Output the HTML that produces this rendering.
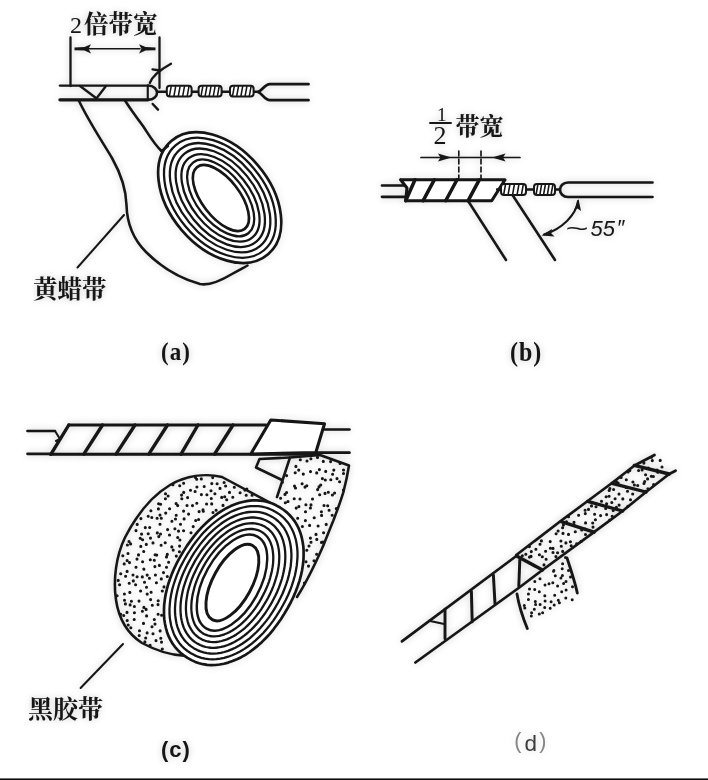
<!DOCTYPE html>
<html lang="zh-CN"><head><meta charset="utf-8"><title>绝缘带包缠方法</title>
<style>
html,body{margin:0;padding:0;background:#fff;}
body{width:708px;height:780px;overflow:hidden;position:relative;}
svg{position:absolute;left:0;top:0;display:block;}
.cjk{font-family:"Liberation Serif","Noto Serif CJK SC",serif;font-weight:700;fill:#141414;}
.num{font-family:"Liberation Serif",serif;fill:#141414;}
.lab{font-family:"Liberation Serif",serif;font-weight:700;fill:#141414;}
.sans{font-family:"Liberation Sans",sans-serif;}
</style></head><body>
<svg width="708" height="780" viewBox="0 0 708 780">
<defs><filter id="soft" x="-2%" y="-2%" width="104%" height="104%"><feGaussianBlur stdDeviation="0.45"/></filter><filter id="haze" x="-5%" y="-5%" width="110%" height="110%"><feGaussianBlur stdDeviation="3.5"/></filter></defs>
<rect x="0" y="0" width="708" height="780" fill="#fff"/>
<use href="#art" filter="url(#haze)" opacity="0.22"/>
<g id="art" filter="url(#soft)">
<path d="M70.5 37.5V86 M159.5 37.5V88" fill="none" stroke="#141414" stroke-width="2.28" stroke-linecap="round" stroke-linejoin="round" />
<path d="M88 48.8H140" fill="none" stroke="#141414" stroke-width="1.61" stroke-linecap="round" stroke-linejoin="round" />
<path d="M74.5 47.4L84.5 47L91 44.2L88.5 48.8L91 53.4L84.5 50.6L74.5 50.2Z" fill="#141414"/>
<path d="M155.5 47.4L145.5 47L139 44.2L141.5 48.8L139 53.4L145.5 50.6L155.5 50.2Z" fill="#141414"/>
<path d="M60 85.6H148" fill="none" stroke="#141414" stroke-width="2.41" stroke-linecap="round" stroke-linejoin="round" />
<path d="M60 99.8H148" fill="none" stroke="#141414" stroke-width="3.35" stroke-linecap="round" stroke-linejoin="round" />
<path d="M148 85.6C160 86 160 99.5 148 99.8" fill="none" stroke="#141414" stroke-width="2.55" stroke-linecap="round" stroke-linejoin="round" />
<path d="M147.8 86V99.5" fill="none" stroke="#141414" stroke-width="2.14" stroke-linecap="round" stroke-linejoin="round" />
<path d="M80 86L96 98 M106 86L96 99" fill="none" stroke="#141414" stroke-width="2.28" stroke-linecap="round" stroke-linejoin="round" />
<path d="M149.8 83C152 77 157 71.5 171 63.8 M152.5 69.3L160 70.5" fill="none" stroke="#141414" stroke-width="2.28" stroke-linecap="round" stroke-linejoin="round" />
<path d="M152.7 104L158 109.6" fill="none" stroke="#141414" stroke-width="2.41" stroke-linecap="round" stroke-linejoin="round" />
<path d="M157 91.8H167 M191 91.8H199 M221 91.8H231 M254 91.8H259" fill="none" stroke="#141414" stroke-width="2.41" stroke-linecap="round" stroke-linejoin="round" />
<rect x="166.8" y="85.8" width="24.8" height="10.8" rx="3" ry="3" fill="#fff" stroke="#141414" stroke-width="2.00"/><path d="M171.1 86.8L169.5 95.6M175.6 86.8L174.0 95.6M180.0 86.8L178.4 95.6M184.4 86.8L182.8 95.6M188.9 86.8L187.3 95.6" fill="none" stroke="#141414" stroke-width="1.54" stroke-linecap="round" stroke-linejoin="round" />
<rect x="198.6" y="85.8" width="23.0" height="10.8" rx="3" ry="3" fill="#fff" stroke="#141414" stroke-width="2.00"/><path d="M202.7 86.8L201.1 95.6M206.8 86.8L205.2 95.6M210.9 86.8L209.3 95.6M215.0 86.8L213.4 95.6M219.1 86.8L217.5 95.6" fill="none" stroke="#141414" stroke-width="1.54" stroke-linecap="round" stroke-linejoin="round" />
<rect x="230.0" y="85.8" width="23.6" height="10.8" rx="3" ry="3" fill="#fff" stroke="#141414" stroke-width="2.00"/><path d="M234.2 86.8L232.6 95.6M238.4 86.8L236.8 95.6M242.6 86.8L241.0 95.6M246.8 86.8L245.2 95.6M251.0 86.8L249.4 95.6" fill="none" stroke="#141414" stroke-width="1.54" stroke-linecap="round" stroke-linejoin="round" />
<path d="M308.5 84.2H270C264.5 84.2 262 91 258 92C262 93 264.5 100.2 270 100.2H308.5" fill="none" stroke="#141414" stroke-width="2.81" stroke-linecap="round" stroke-linejoin="round" />
<path d="M78.8 100.5C88 120 100 138 112 158C121 174 126 188 126.5 205C127 225 134 240 146 252C160 266 178 278 200 284C210 286 222 280 232 274C238 270.5 243 268 247.5 265.5" fill="none" stroke="#141414" stroke-width="2.55" stroke-linecap="round" stroke-linejoin="round" />
<path d="M125 100.5C131 110 137 118 143 126C149 135 154 144 161.5 151" fill="none" stroke="#141414" stroke-width="2.55" stroke-linecap="round" stroke-linejoin="round" />
<ellipse cx="219.7" cy="197.6" rx="74.5" ry="50.0" transform="rotate(49.5 219.7 197.6)" fill="#fff" stroke="#141414" stroke-width="2.68"/>
<ellipse cx="219.9" cy="197.7" rx="68.6" ry="44.8" transform="rotate(50.0 219.9 197.7)" fill="none" stroke="#141414" stroke-width="2.28"/>
<ellipse cx="220.1" cy="197.7" rx="62.7" ry="39.6" transform="rotate(50.5 220.1 197.7)" fill="none" stroke="#141414" stroke-width="2.28"/>
<ellipse cx="220.3" cy="197.8" rx="56.8" ry="34.4" transform="rotate(51.0 220.3 197.8)" fill="none" stroke="#141414" stroke-width="2.28"/>
<ellipse cx="220.5" cy="197.9" rx="50.8" ry="29.2" transform="rotate(51.4 220.5 197.9)" fill="none" stroke="#141414" stroke-width="2.28"/>
<ellipse cx="220.7" cy="197.9" rx="44.9" ry="24.0" transform="rotate(51.9 220.7 197.9)" fill="none" stroke="#141414" stroke-width="2.28"/>
<ellipse cx="220.9" cy="198.0" rx="39.0" ry="18.8" transform="rotate(52.4 220.9 198.0)" fill="none" stroke="#141414" stroke-width="2.68"/>
<path d="M161.5 151L168 146" fill="none" stroke="#141414" stroke-width="2.41" stroke-linecap="round" stroke-linejoin="round" />
<path d="M124 215L77.5 267.5" fill="none" stroke="#141414" stroke-width="2.01" stroke-linecap="round" stroke-linejoin="round" />
<path d="M421 157.5H520" fill="none" stroke="#141414" stroke-width="1.68" stroke-linecap="round" stroke-linejoin="round" />
<path d="M451.5 157.5L438 153.6L440.5 157.5L438 161.4Z" fill="#141414"/>
<path d="M492 157.5L505.5 153.6L503 157.5L505.5 161.4Z" fill="#141414"/>
<path d="M458.8 151V179 M481 151V179" fill="none" stroke="#141414" stroke-width="1.61" stroke-linecap="round" stroke-linejoin="round" stroke-dasharray="5 3"/>
<path d="M430 123H451" fill="none" stroke="#141414" stroke-width="1.88" stroke-linecap="round" stroke-linejoin="round" />
<path d="M382 185.5H405 M382 196.8H405" fill="none" stroke="#141414" stroke-width="2.68" stroke-linecap="round" stroke-linejoin="round" />
<path d="M400.6 179.7H505L491.7 200.8H405.7L407 188L400.6 179.7" fill="#fff" stroke="#141414" stroke-width="3.08" stroke-linecap="round" stroke-linejoin="round" />
<path d="M415 179.7L405.7 200.8 M434.4 179.7L423 200.8 M457 179.7L445.7 200.8 M479.4 179.7L468 200.8" fill="none" stroke="#141414" stroke-width="3.48" stroke-linecap="round" stroke-linejoin="round" />
<path d="M468 200.8L506 260 M512.5 195L555 260" fill="none" stroke="#141414" stroke-width="2.55" stroke-linecap="round" stroke-linejoin="round" />
<path d="M497 189.5H503 M526 189.5H535 M555 189.5H560" fill="none" stroke="#141414" stroke-width="2.28" stroke-linecap="round" stroke-linejoin="round" />
<rect x="501.0" y="184.0" width="25.0" height="11.0" rx="3" ry="3" fill="#fff" stroke="#141414" stroke-width="2.00"/><path d="M505.4 185.0L503.8 194.0M509.8 185.0L508.2 194.0M514.3 185.0L512.7 194.0M518.8 185.0L517.2 194.0M523.2 185.0L521.6 194.0" fill="none" stroke="#141414" stroke-width="1.54" stroke-linecap="round" stroke-linejoin="round" />
<rect x="534.0" y="184.0" width="21.0" height="11.0" rx="3" ry="3" fill="#fff" stroke="#141414" stroke-width="2.00"/><path d="M537.8 185.0L536.2 194.0M541.5 185.0L540.0 194.0M545.3 185.0L543.7 194.0M549.0 185.0L547.5 194.0M552.8 185.0L551.2 194.0" fill="none" stroke="#141414" stroke-width="1.54" stroke-linecap="round" stroke-linejoin="round" />
<path d="M652.5 182.5H568C563 182.5 560 186 560 189.7C560 193.5 563 197 568 197H652.5" fill="none" stroke="#141414" stroke-width="2.68" stroke-linecap="round" stroke-linejoin="round" />
<path d="M578 201C576 215 562 229 544 234.5" fill="none" stroke="#141414" stroke-width="2.01" stroke-linecap="round" stroke-linejoin="round" />
<path d="M578.5 199L581 211L577.5 208.5L574 210.5Z" fill="#141414"/>
<path d="M541.5 235.5L552 229L551 233L554.5 236.5Z" fill="#141414"/>
<path d="M27.5 431H55 M27.5 453.8H52" fill="none" stroke="#141414" stroke-width="2.68" stroke-linecap="round" stroke-linejoin="round" />
<path d="M55 431L60 439L56 441" fill="none" stroke="#141414" stroke-width="2.01" stroke-linecap="round" stroke-linejoin="round" />
<path d="M68.8 425H266 M50 454.2H316" fill="none" stroke="#141414" stroke-width="2.95" stroke-linecap="round" stroke-linejoin="round" />
<path d="M68.8 425L51.0 454.2M102.5 425L83.8 454.2M135.0 425L116.0 454.2M167.5 425L148.8 454.2M198.0 425L181.0 454.2M233.0 425L214.5 454.2" fill="none" stroke="#141414" stroke-width="3.35" stroke-linecap="round" stroke-linejoin="round" />
<path d="M270.8 420L324.5 423.8L315.8 452.5L250.8 454Z" fill="#fff" stroke="#141414" stroke-width="3.08" stroke-linecap="round" stroke-linejoin="round" />
<path d="M324.5 429.5H349.5 M315.8 452.7H349.5" fill="none" stroke="#141414" stroke-width="2.68" stroke-linecap="round" stroke-linejoin="round" />
<path d="M289.5 457.5L259.5 459L256 467.5L282 480" fill="none" stroke="#141414" stroke-width="2.55" stroke-linecap="round" stroke-linejoin="round" />
<path d="M277 497L290 457.5L320 455L349 465.5C347 478 345 486 343.3 492.3C340 503 337 511 333.4 520.4C329 531 326 539 322 548.6C316 562 308 580 297 597" fill="none" stroke="#141414" stroke-width="2.55" stroke-linecap="round" stroke-linejoin="round" />
<path d="M317.5 457.4h.01M300.3 459.7h.01M307.0 461.0h.01M310.9 458.8h.01M323.3 461.4h.01M330.6 461.6h.01M340.1 463.4h.01M295.9 466.4h.01M298.7 470.1h.01M310.5 471.6h.01M319.4 469.6h.01M325.7 471.4h.01M333.8 470.1h.01M343.5 470.0h.01M286.6 475.6h.01M295.2 472.7h.01M303.3 474.1h.01M316.7 472.9h.01M322.4 478.6h.01M332.6 474.3h.01M337.0 478.6h.01M343.5 473.5h.01M282.4 482.3h.01M294.5 486.1h.01M302.1 483.7h.01M306.8 485.7h.01M320.7 485.0h.01M325.3 480.0h.01M330.8 479.7h.01M339.6 481.7h.01M286.6 492.5h.01M295.5 488.0h.01M305.0 487.1h.01M317.6 489.6h.01M319.0 486.9h.01M328.3 492.2h.01M334.6 493.0h.01M343.5 490.1h.01M280.6 498.2h.01M285.0 494.4h.01M294.2 498.8h.01M300.0 499.0h.01M312.5 499.0h.01M319.7 494.8h.01M325.0 493.4h.01M332.4 495.0h.01M285.3 502.7h.01M288.0 501.5h.01M298.9 506.6h.01M305.9 504.8h.01M311.0 504.9h.01M324.0 505.5h.01M327.7 505.8h.01M296.2 508.1h.01M305.5 511.8h.01M310.4 508.0h.01M321.4 511.8h.01M329.1 510.2h.01M336.3 508.6h.01M297.7 518.2h.01M305.4 520.6h.01M314.2 517.8h.01M321.6 515.4h.01M332.2 515.3h.01M302.4 526.5h.01M309.6 525.4h.01M318.1 526.0h.01M326.2 524.4h.01M316.0 534.4h.01M323.6 532.7h.01M310.4 538.1h.01M316.8 539.4h.01M322.9 542.0h.01M309.0 546.0h.01M311.0 542.3h.01M321.5 542.4h.01M306.8 550.3h.01M316.6 554.3h.01M306.0 561.8h.01M314.0 560.8h.01M308.5 566.1h.01M304.4 583.1h.01" stroke="#141414" stroke-width="3.10" stroke-linecap="round" fill="none"/>
<path d="M270.4 502.9L222 477C205 473 186 476 170 485C150 497 135 518 125 537.5C116 556 113 580 116 600C119 620 128 634 142 643C155 650 168 655 184.4 655.8" fill="none" stroke="#141414" stroke-width="2.55" stroke-linecap="round" stroke-linejoin="round" />
<path d="M195.5 477.5h.01M212.7 477.6h.01M183.6 483.3h.01M196.7 479.3h.01M201.3 478.9h.01M211.8 483.6h.01M217.1 483.8h.01M224.1 482.5h.01M172.9 484.8h.01M179.7 485.8h.01M190.5 490.2h.01M196.9 487.0h.01M204.2 486.5h.01M211.0 490.7h.01M220.0 488.4h.01M225.6 486.0h.01M234.3 487.2h.01M244.9 490.1h.01M246.8 489.0h.01M165.5 493.8h.01M168.1 496.0h.01M181.6 495.1h.01M183.7 492.4h.01M195.1 491.5h.01M201.4 494.6h.01M206.9 494.8h.01M214.9 493.8h.01M224.7 496.7h.01M229.5 492.4h.01M240.1 492.8h.01M246.2 495.3h.01M252.1 495.2h.01M158.6 503.7h.01M165.4 498.7h.01M176.1 503.6h.01M181.8 498.7h.01M187.6 497.6h.01M196.8 503.3h.01M206.6 504.0h.01M211.3 498.5h.01M221.7 497.4h.01M226.7 499.7h.01M232.8 497.2h.01M158.4 508.9h.01M160.6 504.2h.01M169.6 508.8h.01M177.7 505.6h.01M187.0 505.5h.01M192.5 505.6h.01M203.0 509.9h.01M211.7 503.9h.01M216.1 510.2h.01M223.0 505.4h.01M148.2 516.2h.01M150.9 510.8h.01M160.0 515.1h.01M165.7 513.1h.01M176.2 515.3h.01M183.6 511.1h.01M188.6 514.1h.01M199.1 511.6h.01M203.3 511.3h.01M213.0 512.5h.01M140.9 518.6h.01M151.8 517.5h.01M157.1 518.3h.01M161.3 518.2h.01M171.9 521.2h.01M175.5 519.0h.01M184.1 518.9h.01M195.7 520.5h.01M198.6 519.5h.01M137.2 524.4h.01M145.3 527.6h.01M149.7 527.5h.01M160.0 524.3h.01M167.6 529.6h.01M174.9 528.8h.01M180.5 524.2h.01M193.2 526.6h.01M136.0 530.6h.01M141.6 534.1h.01M148.2 533.8h.01M157.3 532.9h.01M160.5 534.0h.01M169.5 535.0h.01M178.5 531.1h.01M183.6 530.7h.01M191.0 532.8h.01M129.0 541.5h.01M140.2 538.2h.01M142.6 539.8h.01M150.5 538.1h.01M158.8 536.6h.01M165.2 542.7h.01M177.7 537.5h.01M179.9 540.0h.01M127.4 545.0h.01M130.6 543.9h.01M140.8 546.4h.01M146.3 544.4h.01M153.0 542.9h.01M161.1 545.3h.01M171.8 546.9h.01M179.6 546.1h.01M122.8 555.8h.01M128.0 553.5h.01M138.5 554.9h.01M143.7 551.5h.01M155.1 554.7h.01M156.7 555.1h.01M167.3 554.4h.01M173.2 550.1h.01M179.4 551.7h.01M127.1 560.6h.01M137.0 559.1h.01M142.6 561.7h.01M150.3 559.8h.01M154.3 560.2h.01M166.5 556.9h.01M168.6 562.2h.01M176.3 556.1h.01M124.2 563.9h.01M129.5 562.6h.01M136.0 567.3h.01M143.8 569.0h.01M154.9 566.6h.01M159.4 565.4h.01M166.5 567.2h.01M120.7 573.7h.01M127.1 571.4h.01M133.0 575.0h.01M143.9 569.2h.01M147.2 575.1h.01M155.4 575.0h.01M163.5 572.6h.01M118.2 580.4h.01M125.6 576.2h.01M133.3 580.9h.01M137.1 576.8h.01M142.3 576.9h.01M149.4 578.2h.01M161.3 578.9h.01M167.3 576.5h.01M119.6 584.8h.01M129.2 583.3h.01M135.6 584.7h.01M144.5 582.3h.01M146.5 587.3h.01M156.4 582.7h.01M164.0 586.9h.01M124.4 594.0h.01M129.8 592.4h.01M140.6 591.0h.01M147.2 594.1h.01M151.1 592.3h.01M162.3 591.0h.01M117.1 595.8h.01M124.5 600.3h.01M131.4 601.2h.01M139.0 601.1h.01M150.6 599.6h.01M158.2 600.8h.01M125.4 603.9h.01M130.1 604.9h.01M134.4 606.5h.01M143.9 607.4h.01M152.3 605.2h.01M158.0 604.6h.01M120.7 614.3h.01M127.0 612.4h.01M134.4 612.7h.01M142.4 611.2h.01M146.1 609.4h.01M158.1 614.3h.01M123.7 615.5h.01M127.2 620.5h.01M134.2 619.5h.01M146.6 615.9h.01M154.3 619.5h.01M161.6 615.2h.01M128.2 625.0h.01M130.8 627.8h.01M143.5 623.4h.01M152.0 626.8h.01M155.0 624.1h.01M139.5 630.8h.01M147.1 632.9h.01M153.0 633.8h.01M160.1 630.9h.01M139.2 635.5h.01M145.7 638.0h.01M156.0 640.6h.01M160.8 638.3h.01M144.9 641.9h.01M150.1 645.3h.01M161.5 642.1h.01M162.3 649.0h.01" stroke="#141414" stroke-width="3.10" stroke-linecap="round" fill="none"/>
<path d="M280.1 507.5L283.8 510.0L287.1 512.6L290.0 515.5L292.7 518.6L295.1 521.9L297.2 525.5L299.0 529.2L300.5 533.2L301.7 537.4L302.6 541.7L303.3 546.2L303.6 550.9L303.6 555.7L303.4 560.6L302.8 565.6L302.0 570.7L300.8 575.9L299.4 581.1L297.6 586.4L295.6 591.8L293.3 597.1L290.7 602.5L287.7 608.0L284.3 613.8L280.7 619.5L277.1 624.5L273.5 629.3L269.8 633.8L265.9 638.0L262.0 641.9L257.9 645.6L253.8 648.9L249.7 652.0L245.4 654.8L241.2 657.2L236.9 659.3L232.5 661.1L228.2 662.6L223.9 663.7L219.7 664.5L215.4 665.0L211.3 665.1L207.2 664.8L203.1 664.2L199.2 663.2L195.3 661.9L191.5 660.1L187.5 657.9L183.8 655.4L180.5 652.8L177.6 649.9L174.9 646.8L172.5 643.5L170.4 639.9L168.6 636.2L167.1 632.2L165.9 628.0L165.0 623.7L164.3 619.2L164.0 614.5L164.0 609.7L164.2 604.8L164.8 599.8L165.6 594.7L166.8 589.5L168.2 584.3L170.0 579.0L172.0 573.6L174.3 568.3L176.9 562.9L179.9 557.4L183.3 551.6L186.9 545.9L190.5 540.9L194.1 536.1L197.8 531.6L201.7 527.4L205.6 523.5L209.7 519.8L213.8 516.5L217.9 513.4L222.2 510.6L226.4 508.2L230.7 506.1L235.1 504.3L239.4 502.8L243.7 501.7L247.9 500.9L252.2 500.4L256.3 500.3L260.4 500.6L264.5 501.2L268.4 502.2L272.3 503.5L276.1 505.3Z" fill="#fff" stroke="#141414" stroke-width="2.68" stroke-linejoin="round"/>
<path d="M276.1 512.2L279.5 514.4L282.5 516.8L285.2 519.4L287.6 522.2L289.7 525.2L291.6 528.5L293.3 532.0L294.6 535.7L295.8 539.5L296.6 543.6L297.2 547.8L297.5 552.1L297.5 556.6L297.2 561.2L296.7 565.9L295.9 570.6L294.9 575.5L293.5 580.4L291.9 585.3L290.1 590.3L288.0 595.3L285.6 600.3L282.9 605.3L279.8 610.7L276.5 615.9L273.3 620.6L269.9 625.1L266.5 629.3L263.0 633.2L259.3 636.9L255.6 640.4L251.8 643.6L247.9 646.5L244.0 649.1L240.1 651.5L236.1 653.5L232.1 655.3L228.2 656.7L224.2 657.9L220.2 658.7L216.4 659.2L212.5 659.3L208.7 659.1L205.0 658.7L201.4 657.8L197.9 656.7L194.4 655.1L190.9 653.2L187.5 651.0L184.5 648.6L181.8 646.0L179.4 643.2L177.3 640.1L175.4 636.9L173.7 633.4L172.4 629.7L171.2 625.8L170.4 621.8L169.8 617.6L169.5 613.3L169.5 608.8L169.8 604.2L170.3 599.5L171.1 594.7L172.1 589.9L173.5 585.0L175.1 580.1L176.9 575.1L179.0 570.1L181.4 565.1L184.1 560.0L187.2 554.7L190.5 549.5L193.7 544.7L197.1 540.3L200.5 536.1L204.0 532.1L207.7 528.4L211.4 525.0L215.2 521.8L219.1 518.9L223.0 516.2L226.9 513.9L230.9 511.8L234.9 510.1L238.8 508.6L242.8 507.5L246.8 506.7L250.6 506.2L254.5 506.1L258.3 506.2L262.0 506.7L265.6 507.5L269.1 508.7L272.6 510.2Z" fill="none" stroke="#141414" stroke-width="2.28" stroke-linejoin="round"/>
<path d="M272.3 516.9L275.3 518.9L277.9 521.0L280.3 523.3L282.5 525.9L284.5 528.7L286.2 531.7L287.6 534.9L288.9 538.2L289.9 541.8L290.6 545.5L291.1 549.4L291.4 553.4L291.4 557.6L291.1 561.8L290.7 566.2L289.9 570.6L288.9 575.1L287.7 579.6L286.2 584.2L284.5 588.8L282.6 593.5L280.4 598.1L278.0 602.8L275.2 607.6L272.3 612.4L269.3 616.8L266.3 620.9L263.1 624.8L259.9 628.5L256.6 632.0L253.2 635.2L249.7 638.3L246.1 641.0L242.6 643.5L238.9 645.8L235.3 647.7L231.6 649.4L228.0 650.9L224.4 652.0L220.8 652.8L217.2 653.3L213.7 653.6L210.3 653.5L206.9 653.1L203.6 652.4L200.4 651.4L197.3 650.1L194.1 648.4L191.1 646.4L188.5 644.3L186.1 642.0L183.9 639.4L181.9 636.6L180.2 633.7L178.8 630.5L177.5 627.1L176.5 623.5L175.8 619.8L175.3 615.9L175.0 611.9L175.0 607.8L175.3 603.5L175.7 599.2L176.5 594.7L177.5 590.2L178.7 585.7L180.2 581.1L181.9 576.5L183.8 571.9L186.0 567.2L188.4 562.6L191.2 557.7L194.1 552.9L197.1 548.6L200.1 544.4L203.3 540.5L206.5 536.8L209.8 533.3L213.2 530.1L216.7 527.1L220.3 524.3L223.8 521.8L227.5 519.6L231.1 517.6L234.8 515.9L238.4 514.5L242.0 513.4L245.6 512.5L249.2 512.0L252.7 511.8L256.1 511.9L259.5 512.2L262.8 512.9L266.0 513.9L269.1 515.2Z" fill="none" stroke="#141414" stroke-width="2.28" stroke-linejoin="round"/>
<path d="M268.5 521.7L271.1 523.4L273.5 525.3L275.6 527.4L277.5 529.7L279.2 532.2L280.8 534.9L282.1 537.8L283.2 540.9L284.0 544.2L284.7 547.6L285.1 551.1L285.3 554.8L285.3 558.6L285.1 562.5L284.6 566.5L283.9 570.6L283.0 574.8L281.9 579.0L280.5 583.2L279.0 587.4L277.2 591.7L275.2 596.0L273.0 600.2L270.6 604.7L267.9 609.0L265.3 613.0L262.5 616.8L259.7 620.4L256.7 623.9L253.7 627.1L250.6 630.2L247.5 633.0L244.2 635.6L241.0 638.0L237.7 640.1L234.4 642.0L231.1 643.6L227.8 645.0L224.5 646.1L221.2 646.9L218.0 647.5L214.8 647.8L211.7 647.8L208.7 647.5L205.7 647.0L202.9 646.1L200.1 645.0L197.3 643.6L194.7 641.9L192.3 640.0L190.2 637.9L188.3 635.6L186.6 633.1L185.0 630.4L183.7 627.5L182.6 624.4L181.8 621.1L181.1 617.7L180.7 614.2L180.5 610.5L180.5 606.7L180.7 602.8L181.2 598.8L181.9 594.7L182.8 590.5L183.9 586.3L185.3 582.1L186.8 577.9L188.6 573.6L190.6 569.3L192.8 565.1L195.2 560.6L197.9 556.3L200.5 552.3L203.3 548.5L206.1 544.9L209.1 541.4L212.1 538.2L215.2 535.1L218.3 532.3L221.6 529.7L224.8 527.3L228.1 525.2L231.4 523.3L234.7 521.7L238.0 520.3L241.3 519.2L244.6 518.4L247.8 517.8L251.0 517.5L254.1 517.5L257.1 517.8L260.1 518.3L262.9 519.2L265.7 520.3Z" fill="none" stroke="#141414" stroke-width="2.28" stroke-linejoin="round"/>
<path d="M264.8 526.6L267.0 528.1L269.1 529.7L270.9 531.6L272.6 533.6L274.1 535.9L275.4 538.3L276.6 540.9L277.5 543.7L278.2 546.6L278.8 549.7L279.1 552.9L279.3 556.3L279.2 559.8L279.0 563.3L278.5 567.0L277.9 570.7L277.1 574.5L276.0 578.3L274.8 582.2L273.4 586.1L271.8 590.0L270.0 593.9L268.1 597.8L265.9 601.7L263.5 605.6L261.2 609.3L258.7 612.8L256.1 616.1L253.5 619.3L250.8 622.3L248.0 625.1L245.2 627.8L242.3 630.2L239.3 632.4L236.4 634.4L233.4 636.2L230.4 637.8L227.5 639.1L224.5 640.2L221.6 641.0L218.7 641.6L215.9 642.0L213.1 642.1L210.4 641.9L207.8 641.5L205.3 640.8L202.8 639.9L200.4 638.6L198.2 637.2L196.1 635.5L194.3 633.7L192.6 631.7L191.1 629.4L189.8 627.0L188.6 624.4L187.7 621.6L187.0 618.6L186.4 615.6L186.1 612.3L185.9 609.0L186.0 605.5L186.2 601.9L186.7 598.3L187.3 594.5L188.1 590.7L189.2 586.9L190.4 583.1L191.8 579.2L193.4 575.3L195.2 571.4L197.1 567.5L199.3 563.5L201.7 559.6L204.0 556.0L206.5 552.5L209.1 549.1L211.7 546.0L214.4 543.0L217.2 540.1L220.0 537.5L222.9 535.1L225.9 532.8L228.8 530.8L231.8 529.0L234.8 527.5L237.7 526.1L240.7 525.1L243.6 524.2L246.5 523.6L249.3 523.3L252.1 523.2L254.8 523.4L257.4 523.8L259.9 524.5L262.4 525.4Z" fill="none" stroke="#141414" stroke-width="2.28" stroke-linejoin="round"/>
<path d="M261.1 531.6L263.0 532.8L264.8 534.2L266.3 535.8L267.8 537.6L269.1 539.6L270.2 541.7L271.1 544.1L271.9 546.5L272.5 549.2L272.9 551.9L273.2 554.9L273.3 557.9L273.2 561.0L273.0 564.2L272.5 567.5L271.9 570.9L271.1 574.3L270.2 577.8L269.1 581.3L267.8 584.8L266.4 588.3L264.8 591.8L263.0 595.3L261.1 598.9L259.1 602.4L257.0 605.7L254.8 608.8L252.5 611.9L250.2 614.8L247.8 617.5L245.3 620.1L242.7 622.6L240.2 624.8L237.6 626.9L235.0 628.8L232.3 630.5L229.7 632.0L227.1 633.3L224.5 634.3L221.9 635.2L219.4 635.8L216.9 636.2L214.5 636.3L212.1 636.3L209.8 636.0L207.6 635.4L205.5 634.7L203.5 633.7L201.6 632.4L199.8 631.0L198.3 629.4L196.8 627.6L195.5 625.7L194.4 623.5L193.5 621.2L192.7 618.7L192.1 616.1L191.7 613.3L191.4 610.4L191.3 607.4L191.4 604.2L191.6 601.0L192.1 597.7L192.7 594.3L193.5 590.9L194.4 587.4L195.5 583.9L196.8 580.4L198.2 576.9L199.8 573.4L201.6 569.9L203.5 566.4L205.5 562.9L207.6 559.6L209.8 556.4L212.1 553.4L214.4 550.5L216.8 547.7L219.3 545.1L221.9 542.7L224.4 540.4L227.0 538.3L229.6 536.4L232.3 534.7L234.9 533.2L237.5 532.0L240.1 530.9L242.7 530.1L245.2 529.5L247.7 529.1L250.1 528.9L252.5 529.0L254.8 529.3L257.0 529.8L259.1 530.6Z" fill="none" stroke="#141414" stroke-width="2.28" stroke-linejoin="round"/>
<ellipse cx="232.0" cy="582.6" rx="52.6" ry="27.8" transform="rotate(-61.0 232.0 582.6)" fill="none" stroke="#141414" stroke-width="2.41"/>
<ellipse cx="232.4" cy="582.6" rx="42.2" ry="19.5" transform="rotate(-61.4 232.4 582.6)" fill="none" stroke="#141414" stroke-width="2.95"/>
<path d="M123 644L80.6 688" fill="none" stroke="#141414" stroke-width="2.01" stroke-linecap="round" stroke-linejoin="round" />
<path d="M651.5 457.3h.01M643.9 463.1h.01M652.3 460.6h.01M660.2 460.4h.01M636.3 465.6h.01M642.1 470.0h.01M648.3 468.1h.01M657.1 470.1h.01M662.0 467.0h.01M628.1 472.0h.01M629.8 470.5h.01M638.6 470.5h.01M645.6 474.8h.01M651.3 476.2h.01M657.8 472.2h.01M668.1 474.0h.01M616.3 481.6h.01M621.1 477.4h.01M626.3 479.8h.01M632.9 482.0h.01M644.7 481.5h.01M647.6 478.9h.01M653.4 476.5h.01M609.9 488.5h.01M618.1 483.0h.01M626.2 487.5h.01M634.4 485.0h.01M637.7 485.5h.01M644.0 483.4h.01M653.6 484.5h.01M609.2 490.4h.01M613.6 489.5h.01M619.0 494.1h.01M627.5 491.2h.01M632.7 494.0h.01M645.4 491.2h.01M647.9 488.7h.01M606.1 496.7h.01M609.1 496.3h.01M615.1 498.7h.01M622.8 498.9h.01M630.5 499.7h.01M591.5 505.9h.01M601.5 501.3h.01M606.6 503.7h.01M611.8 502.5h.01M619.1 505.1h.01M627.9 506.3h.01M585.1 510.3h.01M588.5 509.4h.01M596.0 506.7h.01M605.7 508.5h.01M613.2 510.5h.01M616.4 507.4h.01M568.5 516.8h.01M578.6 515.3h.01M585.3 513.6h.01M594.6 514.2h.01M600.6 515.6h.01M606.6 514.6h.01M612.2 516.3h.01M563.4 525.0h.01M566.5 521.9h.01M574.0 522.3h.01M585.6 522.9h.01M592.7 523.0h.01M595.4 519.7h.01M609.7 520.0h.01M558.1 531.0h.01M562.6 527.7h.01M573.9 524.9h.01M581.7 529.9h.01M585.1 529.1h.01M593.0 527.1h.01M556.1 533.8h.01M563.0 533.4h.01M568.5 534.4h.01M575.3 531.7h.01M585.5 534.5h.01M592.3 532.6h.01M541.4 540.9h.01M550.2 541.6h.01M560.9 541.0h.01M565.9 542.9h.01M570.4 541.8h.01M581.2 541.4h.01M529.4 546.6h.01M535.9 549.2h.01M540.0 544.2h.01M550.4 548.2h.01M553.0 548.4h.01M561.3 546.2h.01M571.2 545.7h.01M576.7 543.7h.01M525.8 554.2h.01M531.3 551.6h.01M539.4 554.8h.01M545.6 551.2h.01M553.0 552.5h.01M557.6 552.8h.01M562.7 551.4h.01M522.3 555.8h.01M529.5 557.1h.01M531.0 556.4h.01M542.3 556.8h.01M546.1 559.2h.01M555.9 556.6h.01M544.0 564.9h.01" stroke="#141414" stroke-width="3.10" stroke-linecap="round" fill="none"/>
<path d="M565.5 557.5h.01M562.6 563.7h.01M553.9 570.6h.01M562.2 568.8h.01M568.5 570.6h.01M553.5 571.2h.01M555.3 575.8h.01M562.4 575.4h.01M570.5 576.9h.01M534.8 581.6h.01M540.0 578.7h.01M552.8 582.7h.01M560.9 578.1h.01M566.0 581.5h.01M529.5 589.1h.01M534.7 589.4h.01M545.0 585.0h.01M549.0 583.7h.01M557.6 585.9h.01M563.6 583.4h.01M572.5 586.7h.01M528.4 593.9h.01M539.3 591.8h.01M544.8 595.7h.01M554.7 595.2h.01M561.7 591.8h.01M566.1 590.1h.01M528.4 599.6h.01M535.3 601.6h.01M545.1 600.9h.01M551.1 601.7h.01M558.3 600.2h.01M565.8 598.0h.01M572.2 599.7h.01M524.3 605.4h.01M535.6 604.6h.01M540.1 604.6h.01M544.7 607.4h.01M554.2 604.9h.01M559.4 602.7h.01M524.8 607.9h.01M531.6 612.8h.01M534.3 609.2h.01M542.6 612.7h.01M550.2 608.2h.01M531.3 616.1h.01M539.3 613.9h.01" stroke="#141414" stroke-width="3.00" stroke-linecap="round" fill="none"/>
<path d="M401.9 641.4L516.3 556" fill="none" stroke="#141414" stroke-width="2.68" stroke-linecap="round" stroke-linejoin="round" />
<path d="M415.4 662.5L520 587L542.5 570L594 532.2L622.6 511L646 492L669.2 474L675.6 470.7" fill="none" stroke="#141414" stroke-width="2.68" stroke-linecap="round" stroke-linejoin="round" />
<path d="M516.3 555L561 520.8L587.7 501L612 483L634.5 465.5L654.5 455" fill="none" stroke="#141414" stroke-width="2.68" stroke-linecap="round" stroke-linejoin="round" />
<path d="M445 609.2L445 638.8 M471.4 591.4L472.2 621.9 M493.4 575.3L495 604 M519.8 560L518.8 586" fill="none" stroke="#141414" stroke-width="2.95" stroke-linecap="round" stroke-linejoin="round" />
<path d="M429 620.8L444.2 624" fill="none" stroke="#141414" stroke-width="2.14" stroke-linecap="round" stroke-linejoin="round" />
<path d="M516.6 556L542.5 570 M561.2 521.6L594 532.2 M587.7 501.4L622.6 511 M612 483.4L646 492 M634.3 465.4L669.2 474" fill="none" stroke="#141414" stroke-width="3.35" stroke-linecap="round" stroke-linejoin="round" />
<path d="M517 594C519 606 523 618 527.3 628.5 M567 558C571 570 575 582 577.3 593" fill="none" stroke="#141414" stroke-width="2.81" stroke-linecap="round" stroke-linejoin="round" />
<text class="num" x="70" y="33" font-size="24">2</text>
<text class="cjk" x="84" y="32.5" font-size="24.5">倍带宽</text>
<text class="cjk" x="33" y="298" font-size="24.5">黄蜡带</text>
<text class="lab" transform="translate(161 360.4) scale(1 1.08)" font-size="23" letter-spacing="1">(a)</text>
<text class="num" x="437" y="121" font-size="19">1</text>
<text class="num" x="433.5" y="144" font-size="26">2</text>
<text class="cjk" x="455.5" y="135" font-size="24">带宽</text>
<text class="sans" y="236" font-size="22" font-style="italic" fill="#141414"><tspan x="565" textLength="23" lengthAdjust="spacingAndGlyphs">~</tspan><tspan x="590.5">55</tspan><tspan x="616.5" dy="-1">″</tspan></text>
<text class="lab" transform="translate(510 360.6) scale(1 1.14)" font-size="24" letter-spacing="1">(b)</text>
<text class="cjk" x="28" y="717.5" font-size="25">黑胶带</text>
<text class="lab sans" x="161" y="757" font-size="22" letter-spacing="1">(c)</text>
<text class="sans" font-size="22.5" fill="#3c3c3c"><tspan x="514.2" y="748.2" font-size="21.5" fill="#858585">(</tspan><tspan x="524.4" y="751.2">d</tspan><tspan x="539.3" y="748.2" font-size="21.5" fill="#858585">)</tspan></text>
</g>
<rect x="0" y="778.4" width="708" height="1.6" fill="#111"/>
</svg>
</body></html>
